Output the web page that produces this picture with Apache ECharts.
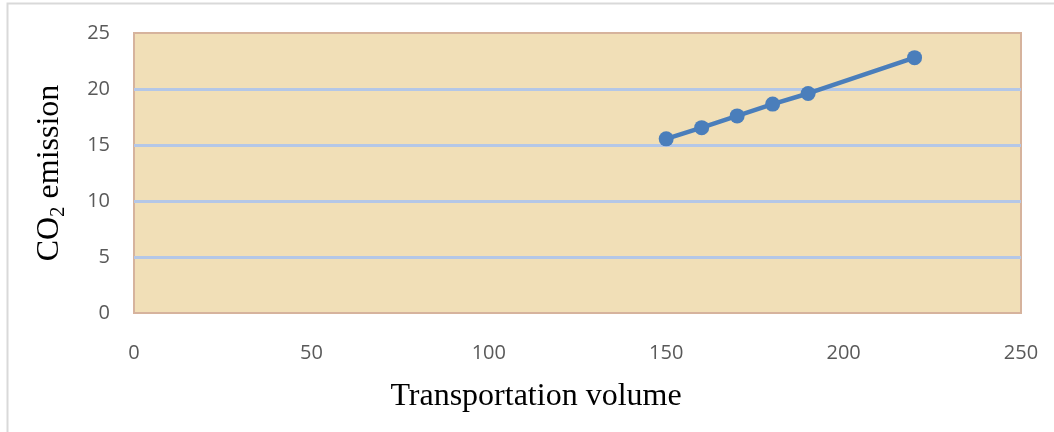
<!DOCTYPE html>
<html><head><meta charset="utf-8">
<script src="https://cdn.jsdelivr.net/npm/echarts@6/dist/echarts.min.js"></script>
<style>html,body{margin:0;padding:0;background:#fff}#c{width:1054px;height:432px}</style>
</head><body><div id="c"></div>
<script>
const xValues = [150, 160, 170, 180, 190, 220];
const yValues = [15.55, 16.55, 17.6, 18.65, 19.6, 22.8];
const xTitle = 'Transportation volume';
const yTitleMain = 'CO';
const yTitleSub = '2';
const yTitleRest = ' emission';

const chart = echarts.init(document.getElementById('c'), null, {renderer: 'canvas'});
chart.setOption({
  animation: false,
  backgroundColor: '#ffffff',
  graphic: [
    {type: 'rect', shape: {x: 7.5, y: 3.5, width: 1060, height: 440}, style: {fill: 'none', stroke: '#d9d9d9', lineWidth: 2}, z: -10},
    {type: 'text', x: 536, y: 397, style: {text: xTitle, font: '32px "Liberation Serif", "Times New Roman", serif', fill: '#000', align: 'center', verticalAlign: 'middle'}},
    {type: 'text', x: 50, y: 173, rotation: Math.PI / 2,
      style: {text: '{a|' + yTitleMain + '}{s|' + yTitleSub + '}{a|' + yTitleRest + '}', align: 'center', verticalAlign: 'middle',
        rich: {a: {font: '32px "Liberation Serif", "Times New Roman", serif', fill: '#000'},
               s: {font: '21px "Liberation Serif", "Times New Roman", serif', fill: '#000', verticalAlign: 'bottom', padding: [16, 0, 0, 0]}}}}
  ],
  grid: {left: 134, right: 33, top: 33, bottom: 119, show: true, backgroundColor: '#f1dfb7', borderColor: '#d6b39d', borderWidth: 2, containLabel: false},
  xAxis: {
    type: 'value', min: 0, max: 250, interval: 50,
    axisLine: {show: false}, axisTick: {show: false}, splitLine: {show: false},
    axisLabel: {color: '#595959', fontSize: 20, fontFamily: '"Open Sans", "Liberation Sans", sans-serif', margin: 30}
  },
  yAxis: {
    type: 'value', min: 0, max: 25, interval: 5,
    axisLine: {show: false}, axisTick: {show: false},
    splitLine: {show: true, showMinLine: false, showMaxLine: false, lineStyle: {color: '#b4c7e7', width: 3}},
    axisLabel: {color: '#595959', fontSize: 20, fontFamily: '"Open Sans", "Liberation Sans", sans-serif', margin: 24}
  },
  series: [{
    type: 'line',
    data: xValues.map((x, i) => [x, yValues[i]]),
    symbol: 'circle', symbolSize: 15,
    lineStyle: {color: '#4a7ebb', width: 4.5},
    itemStyle: {color: '#4a7ebb'}
  }]
});
</script></body></html>
